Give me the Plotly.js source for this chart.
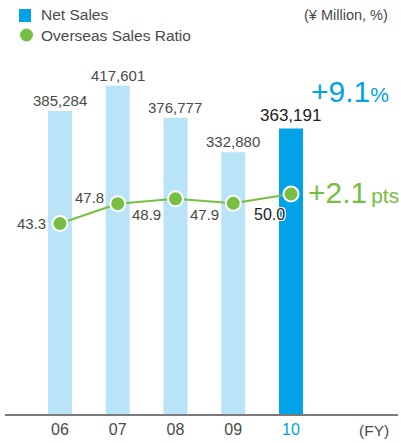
<!DOCTYPE html>
<html>
<head>
<meta charset="utf-8">
<script src="https://cdn.plot.ly/plotly-3.0.1.min.js"></script>
<style>html,body{margin:0;padding:0;background:#fff;}#chart{width:401px;height:443px;}</style>
</head>
<body>
<div id="chart"></div>
<script>
// ---- data ----
var years = ["06", "07", "08", "09", "10"];
var netSales = [385284, 417601, 376777, 332880, 363191];
var overseasRatio = [43.3, 47.8, 48.9, 47.9, 50.0];
var salesGrowthLabel = "+9.1";
var ratioChangeLabel = "+2.1";

// ---- style ----
var FONT = "Liberation Sans, Arial, sans-serif";
var LIGHT = "#b9e3f7", DARK = "#00a2e8", GREEN = "#78be43", TXT = "#4a4a4a";
var ratioLabelDx = [-12, -12, -12, -12, -4];
var ratioLabelDy = [0, 6, -16, -11, -20];

var W = 401, HT = 443, ML = 5, MR = 3, plotTop = 60, plotBottom = 414;
var PW = W - ML - MR, H = plotBottom - plotTop;
function px(x){ return (x - ML) / PW; }
function py(y){ return (plotBottom - y) / H; }

var xs = years.map(function(_, i){ return i; });
var barColors = years.map(function(_, i){ return i === years.length - 1 ? DARK : LIGHT; });

var traces = [
  {type: "bar", x: xs, y: netSales, width: 0.415, marker: {color: barColors},
   hoverinfo: "none", showlegend: false},
  {type: "scatter", mode: "lines+markers", x: xs, y: overseasRatio, yaxis: "y2",
   line: {color: GREEN, width: 2},
   marker: {color: GREEN, size: 15, line: {color: "#fff", width: 2}},
   hoverinfo: "none", showlegend: false}
];

var ann = [];
netSales.forEach(function(v, i){
  var last = i === netSales.length - 1;
  ann.push({x: i, y: v, xref: "x", yref: "y", text: v.toLocaleString("en-US"),
    showarrow: false, yanchor: "bottom", xanchor: "center", yshift: last ? 1 : 0,
    font: {family: FONT, size: last ? 17 : 15, color: last ? "#222" : TXT}});
});
overseasRatio.forEach(function(v, i){
  var last = i === overseasRatio.length - 1;
  ann.push({x: i, y: v, xref: "x", yref: "y2", text: v.toFixed(1),
    showarrow: false, xanchor: "right", yanchor: "middle",
    xshift: ratioLabelDx[i], yshift: ratioLabelDy[i],
    font: {family: FONT, size: last ? 16 : 15, color: last ? "#222" : TXT,
           shadow: last ? "1px 1px 0 #fff, -1px -1px 0 #fff, 1px -1px 0 #fff, -1px 1px 0 #fff" : "none"}});
});
// growth callouts
ann.push({x: px(309), y: py(91), xref: "paper", yref: "paper", xanchor: "left", yanchor: "middle",
  text: salesGrowthLabel + "<span style='font-size:21px'>%</span>", showarrow: false,
  font: {family: FONT, size: 30, color: DARK}});
ann.push({x: px(306), y: py(192), xref: "paper", yref: "paper", xanchor: "left", yanchor: "middle",
  text: ratioChangeLabel + "<span style='font-size:14px'> </span><span style='font-size:21px'>pts</span>", showarrow: false,
  font: {family: FONT, size: 30, color: GREEN}});
// legend texts
ann.push({x: px(39), y: py(15), xref: "paper", yref: "paper", xanchor: "left", yanchor: "middle",
  text: "Net Sales", showarrow: false, font: {family: FONT, size: 15.5, color: TXT}});
ann.push({x: px(39), y: py(35), xref: "paper", yref: "paper", xanchor: "left", yanchor: "middle",
  text: "Overseas Sales Ratio", showarrow: false, font: {family: FONT, size: 15.5, color: TXT}});
ann.push({x: px(390), y: py(15), xref: "paper", yref: "paper", xanchor: "right", yanchor: "middle",
  text: "(¥ Million, %)", showarrow: false, font: {family: FONT, size: 14.5, color: TXT}});
ann.push({x: px(374), y: py(430), xref: "paper", yref: "paper", xanchor: "center", yanchor: "middle",
  text: "(FY)", showarrow: false, font: {family: FONT, size: 15.5, color: TXT}});

var shapes = [
  {type: "rect", xref: "paper", yref: "paper", x0: px(19), x1: px(31), y0: py(22), y1: py(9),
   fillcolor: DARK, line: {width: 0}},
  {type: "circle", xref: "paper", yref: "paper", x0: px(20), x1: px(33), y0: py(41.5), y1: py(28.5),
   fillcolor: GREEN, line: {width: 0}}
];

var layout = {
  width: W, height: HT,
  margin: {l: ML, r: MR, t: plotTop, b: HT - plotBottom, pad: 0},
  paper_bgcolor: "#fff", plot_bgcolor: "#fff",
  xaxis: {range: [-0.952, 5.853], tickmode: "array", tickvals: xs,
    ticktext: years.map(function(y, i){ return i === years.length - 1 ? "<span style='color:" + DARK + "'>" + y + "</span>" : y; }),
    showgrid: false, zeroline: false, showline: true, linecolor: "#7a7a7a", linewidth: 2,
    ticks: "", tickfont: {family: FONT, size: 16, color: TXT}, fixedrange: true},
  yaxis: {range: [0, H * 1272], visible: false, showgrid: false, zeroline: false, fixedrange: true},
  yaxis2: {range: [0, H / 4.40], overlaying: "y", visible: false, showgrid: false, zeroline: false, fixedrange: true},
  annotations: ann, shapes: shapes, showlegend: false
};
Plotly.newPlot("chart", traces, layout, {displayModeBar: false, staticPlot: true});
</script>
</body>
</html>
